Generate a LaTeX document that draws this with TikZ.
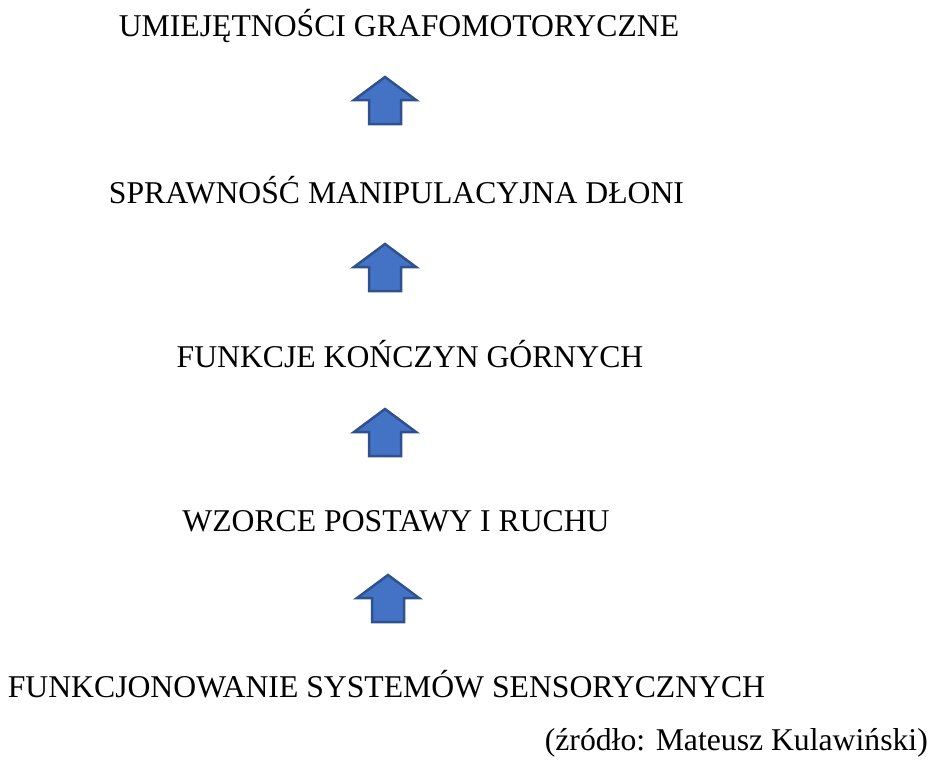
\documentclass[tikz,border=0pt]{standalone}
\usepackage{fontspec}
\setmainfont{Liberation Serif}
\definecolor{arrfill}{HTML}{4472C4}
\definecolor{arrdraw}{HTML}{2F528F}
\tikzset{
  lbl/.style={anchor=base, inner sep=0pt, font=\fontsize{31.7}{36}\selectfont},
  blockarrow/.style={fill=arrfill, draw=arrdraw, line width=2.5pt, line join=miter}
}
\newcommand\blockup[3]{% name, cx, top
  \coordinate (#1) at (#2,#3);
  \draw[blockarrow] (#1) -- ++(31,23) -- ++(-15,0) -- ++(0,24) -- ++(-32,0) -- ++(0,-24) -- ++(-15,0) -- cycle;
}
\begin{document}
\begin{tikzpicture}[x=1pt,y=-1pt]
\useasboundingbox (0,0) rectangle (936,760);
\node[lbl] (t1) at (399,37) {UMIEJĘTNOŚCI GRAFOMOTORYCZNE};
\node[lbl] (t2) at (396.5,203) {SPRAWNOŚĆ MANIPULACYJNA DŁONI};
\node[lbl] (t3) at (410,367) {FUNKCJE KOŃCZYN GÓRNYCH};
\node[lbl] (t4) at (396,531) {WZORCE POSTAWY I RUCHU};
\node[lbl] (t5) at (386.5,697) {FUNKCJONOWANIE SYSTEMÓW SENSORYCZNYCH};
\node[lbl, anchor=base east] (src) at (928,750) {(źródło: Mateusz Kulawiński)};
\blockup{a1}{385}{77}
\blockup{a2}{385}{244}
\blockup{a3}{385}{409}
\blockup{a4}{388}{575}
\end{tikzpicture}
\end{document}
